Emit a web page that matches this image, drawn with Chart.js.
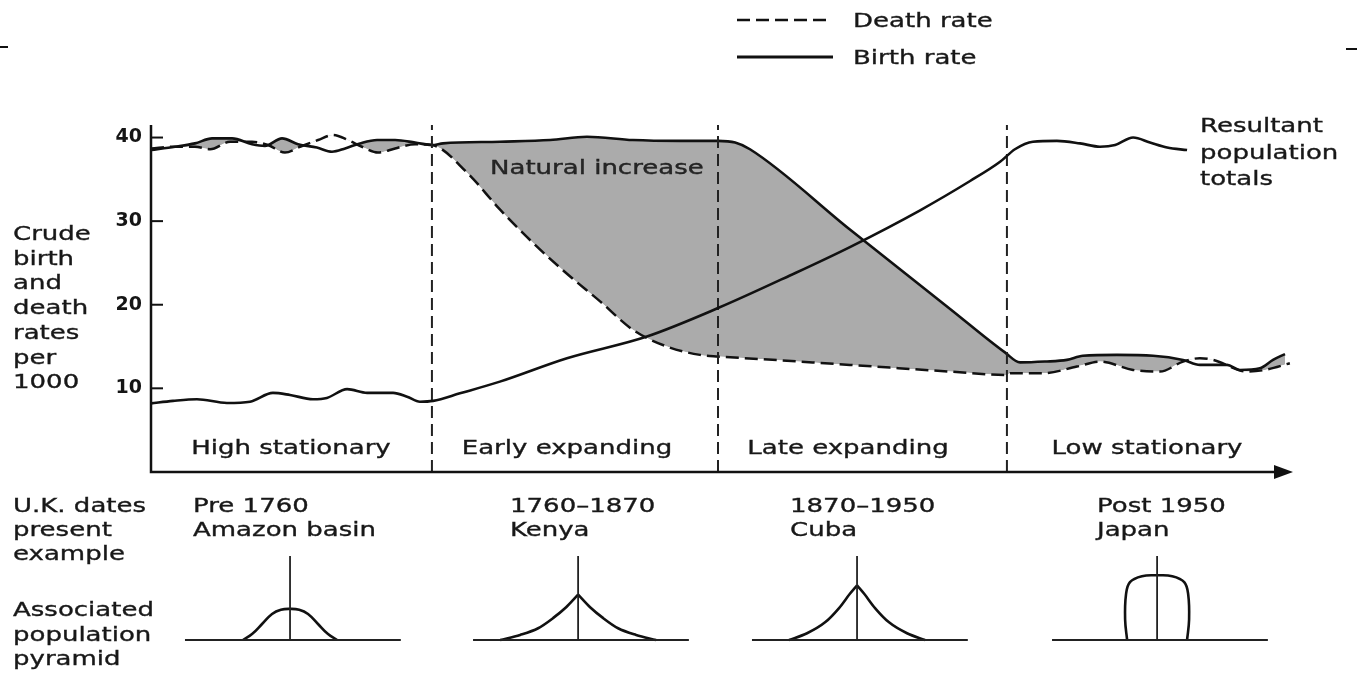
<!DOCTYPE html>
<html>
<head>
<meta charset="utf-8">
<script src="https://cdn.jsdelivr.net/npm/chart.js@4.4.0/dist/chart.umd.min.js"></script>
<style>
  html, body { margin: 0; padding: 0; background: #fff; }
  #wrap { position: relative; width: 1357px; height: 673px; overflow: hidden;
          font-family: "DejaVu Sans", sans-serif; color: #181818; }
  #wrap canvas, #wrap svg { position: absolute; left: 0; top: 0; }
  .t { position: absolute; font-size: 20px; line-height: 24.5px; white-space: nowrap;
       transform-origin: 0 50%; transform: scaleX(1.3); -webkit-text-stroke: 0.35px #181818; }
  .c { position: absolute; font-size: 20px; line-height: 24px; white-space: nowrap;
       transform: translateX(-50%) scaleX(1.3); -webkit-text-stroke: 0.35px #181818; }
</style>
</head>
<body>
<div id="wrap">
  <canvas id="dtm" width="1357" height="673"></canvas>
  <svg width="1357" height="673">
    <line x1="737" y1="20" x2="832" y2="20" stroke="#111" stroke-width="2.5" stroke-dasharray="13 6"/>
    <line x1="737" y1="57" x2="833" y2="57" stroke="#111" stroke-width="3"/>
    <line x1="0" y1="47" x2="8" y2="47" stroke="#111" stroke-width="2"/>
    <line x1="1346" y1="49" x2="1357" y2="49" stroke="#111" stroke-width="2"/>
  </svg>
  <div class="t" style="left:853px; top:8px;">Death rate</div>
  <div class="t" style="left:853px; top:45px;">Birth rate</div>
  <div class="t" style="left:1200px; top:112px; line-height:26.5px;">Resultant<br>population<br>totals</div>
  <div class="t" style="left:490px; top:155px; color:#262626;">Natural increase</div>
  <div class="t" style="left:13px; top:221px; line-height:24.7px;">Crude<br>birth<br>and<br>death<br>rates<br>per<br>1000</div>
  <div class="c" style="left:291px; top:435px;">High stationary</div>
  <div class="c" style="left:567px; top:435px;">Early expanding</div>
  <div class="c" style="left:848px; top:435px;">Late expanding</div>
  <div class="c" style="left:1147px; top:435px;">Low stationary</div>
  <div class="t" style="left:13px; top:493px; line-height:24px;">U.K. dates<br>present<br>example</div>
  <div class="t" style="left:193px; top:493px; line-height:24px;">Pre 1760<br>Amazon basin</div>
  <div class="t" style="left:510px; top:493px; line-height:24px;">1760–1870<br>Kenya</div>
  <div class="t" style="left:790px; top:493px; line-height:24px;">1870–1950<br>Cuba</div>
  <div class="t" style="left:1097px; top:493px; line-height:24px;">Post 1950<br>Japan</div>
  <div class="t" style="left:13px; top:597px; line-height:24.5px;">Associated<br>population<br>pyramid</div>
</div>
<script>
// x is measured in stages (0 = start of stage 1, 4 = end of stage 4)
const stageBounds = [0.984, 1.986, 2.998];
const yTicks = [10, 20, 30, 40];

const deathRate = [
  [0.000, 38.7], [0.084, 38.9], [0.154, 38.9], [0.207, 38.6], [0.277, 39.5], [0.354, 39.5],
  [0.410, 39.1], [0.469, 38.2], [0.522, 38.9], [0.585, 39.7], [0.637, 40.3], [0.690, 39.7],
  [0.739, 38.9], [0.795, 38.2], [0.855, 38.7], [0.925, 39.2], [0.984, 39.1],
  [1.107, 35.8], [1.222, 31.4], [1.338, 27.4], [1.457, 23.7], [1.573, 20.4],
  [1.688, 17.0], [1.807, 15.0], [1.923, 14.0], [1.986, 13.8],
  [2.133, 13.5], [2.448, 12.8], [2.799, 12.0], [2.998, 11.6],
  [3.009, 11.8], [3.124, 11.8], [3.243, 12.6], [3.324, 13.2], [3.440, 12.2], [3.534, 12.0],
  [3.615, 13.2], [3.674, 13.6], [3.720, 13.4], [3.839, 12.0], [3.902, 12.2], [3.989, 13.0]
];

const birthRate = [
  [0.000, 38.5], [0.084, 38.9], [0.154, 39.3], [0.214, 39.9], [0.284, 39.9], [0.354, 39.2],
  [0.399, 39.0], [0.459, 39.9], [0.515, 39.2], [0.581, 38.8], [0.634, 38.3], [0.680, 38.7],
  [0.732, 39.3], [0.792, 39.7], [0.855, 39.7], [0.925, 39.4], [0.984, 39.1],
  [1.023, 39.3], [1.222, 39.5], [1.398, 39.7], [1.527, 40.1], [1.688, 39.7], [1.853, 39.6],
  [1.986, 39.6], [2.046, 39.4], [2.098, 38.6], [2.448, 29.0], [2.799, 19.5], [2.991, 14.3],
  [3.044, 13.1], [3.131, 13.2], [3.208, 13.4], [3.264, 13.9], [3.383, 14.0], [3.510, 13.9],
  [3.615, 13.4], [3.674, 12.8], [3.769, 12.8], [3.814, 12.2], [3.884, 12.4], [3.930, 13.4],
  [3.972, 14.1]
];

const populationTotals = [
  [0.000, 8.2], [0.077, 8.5], [0.161, 8.7], [0.266, 8.25], [0.347, 8.4], [0.427, 9.45],
  [0.487, 9.2], [0.567, 8.7], [0.616, 8.85], [0.687, 9.9], [0.757, 9.45], [0.848, 9.45],
  [0.897, 9.0], [0.942, 8.4], [0.988, 8.5],
  [1.082, 9.4], [1.222, 10.8], [1.457, 13.6], [1.737, 16.2], [1.986, 19.6], [2.238, 23.5],
  [2.448, 26.9], [2.694, 31.3], [2.869, 34.8], [2.974, 37.1], [3.026, 38.6], [3.089, 39.5],
  [3.173, 39.6], [3.254, 39.3], [3.324, 38.9], [3.377, 39.1], [3.440, 40.0], [3.499, 39.4],
  [3.559, 38.8], [3.629, 38.5]
];

// population pyramids: centre (stages), outline as [offset in stages, height in % of pyramid axis]
const pyramidCentres = [0.487, 1.496, 2.473, 3.524];
const pyramidBase = [-0.368, 0.388];
const pyramidPointed = [false, true, true, false];
const pyramidShapes = [
  [[-0.165, 0], [-0.133, 7], [-0.098, 19], [-0.063, 31], [-0.032, 36], [0, 37],
   [0.032, 36], [0.063, 31], [0.098, 19], [0.133, 7], [0.165, 0]],
  [[-0.273, 0], [-0.203, 6], [-0.140, 14], [-0.088, 26], [-0.042, 39], [0, 54],
   [0.042, 39], [0.088, 26], [0.140, 14], [0.203, 6], [0.273, 0]],
  [[-0.238, 0], [-0.175, 8], [-0.112, 21], [-0.063, 38], [-0.025, 55], [0, 65],
   [0.025, 55], [0.063, 38], [0.112, 21], [0.175, 8], [0.238, 0]],
  [[-0.105, 0], [-0.112, 24], [-0.109, 54], [-0.095, 69], [-0.053, 76], [0, 77],
   [0.053, 76], [0.095, 69], [0.109, 54], [0.112, 24], [0.105, 0]]
];

const toXY = arr => arr.map(p => ({x: p[0], y: p[1]}));
const ink = '#111';

const datasets = [
  {
    label: 'Death rate', data: toXY(deathRate), borderColor: ink, borderWidth: 2.5,
    borderDash: [13, 6], pointRadius: 0, cubicInterpolationMode: 'monotone', fill: false, order: 2
  },
  {
    label: 'Birth rate', data: toXY(birthRate), borderColor: ink, borderWidth: 2.6,
    pointRadius: 0, cubicInterpolationMode: 'monotone', order: 3,
    fill: {target: 0, above: '#ababab', below: 'rgba(0,0,0,0)'}
  },
  {
    label: 'Resultant population totals', data: toXY(populationTotals), borderColor: ink,
    borderWidth: 2.6, pointRadius: 0, cubicInterpolationMode: 'monotone', fill: false, order: 0
  }
];

stageBounds.forEach(b => {
  datasets.push({
    data: [{x: b, y: 0}, {x: b, y: 41.5}], borderColor: '#222', borderWidth: 2,
    borderDash: [12, 6], pointRadius: 0, fill: false, order: 1
  });
});

function outline(points) {
  return {data: points, yAxisID: 'yp', borderColor: ink, borderWidth: 2.6, pointRadius: 0,
          fill: false, order: 0};
}

pyramidCentres.forEach((c, i) => {
  datasets.push({
    data: [{x: c + pyramidBase[0], y: 0}, {x: c + pyramidBase[1], y: 0}, {x: c, y: null},
           {x: c, y: 0}, {x: c, y: 100}],
    yAxisID: 'yp', borderColor: '#222', borderWidth: 1.8, pointRadius: 0,
    spanGaps: false, fill: false, order: 0
  });
  const pts = pyramidShapes[i].map(p => ({x: c + p[0], y: p[1]}));
  if (pyramidPointed[i]) {
    const apex = Math.floor(pts.length / 2);
    const left = outline(pts.slice(0, apex + 1));
    const right = outline(pts.slice(apex));
    left.cubicInterpolationMode = 'monotone';
    right.cubicInterpolationMode = 'monotone';
    datasets.push(left, right);
  } else {
    const d = outline(pts);
    d.tension = 0.4;
    datasets.push(d);
  }
});

// axis lines, inward tick marks and arrow head
const axesPlugin = {
  id: 'axes',
  afterDatasetsDraw(chart) {
    const c = chart.ctx, x = chart.scales.x, y = chart.scales.y;
    const x0 = x.getPixelForValue(0), y0 = y.getPixelForValue(0);
    const yTop = y.getPixelForValue(41.5), xEnd = x.getPixelForValue(4);
    c.save();
    c.strokeStyle = ink;
    c.fillStyle = ink;
    c.lineWidth = 2.5;
    c.beginPath();
    c.moveTo(x0, yTop);
    c.lineTo(x0, y0);
    c.lineTo(xEnd - 14, y0);
    c.stroke();
    c.beginPath();
    c.moveTo(xEnd, y0);
    c.lineTo(xEnd - 19, y0 - 7);
    c.lineTo(xEnd - 19, y0 + 7);
    c.closePath();
    c.fill();
    c.lineWidth = 2;
    yTicks.forEach(v => {
      const py = y.getPixelForValue(v);
      c.beginPath();
      c.moveTo(x0, py);
      c.lineTo(x0 + 12, py);
      c.stroke();
    });
    c.restore();
  }
};

new Chart(document.getElementById('dtm'), {
  type: 'line',
  data: {datasets: datasets},
  options: {
    responsive: false,
    animation: false,
    layout: {padding: {left: 91, right: 64, top: 125, bottom: 13}},
    plugins: {legend: {display: false}, tooltip: {enabled: false}},
    scales: {
      x: {type: 'linear', min: 0, max: 4, display: false},
      y: {
        type: 'linear', min: -22.5, max: 41.5, position: 'left',
        afterFit: s => { s.width = 60; s.paddingTop = 0; s.paddingBottom = 0; },
        afterBuildTicks: s => { s.ticks = yTicks.map(v => ({value: v})); },
        border: {display: false},
        grid: {display: false, drawTicks: false},
        ticks: {padding: 9, color: '#151515', font: {family: 'DejaVu Sans', size: 19, weight: 'bold'}}
      },
      yp: {type: 'linear', min: -23.81, max: 613.1, display: false}
    }
  },
  plugins: [axesPlugin]
});
</script>
</body>
</html>
